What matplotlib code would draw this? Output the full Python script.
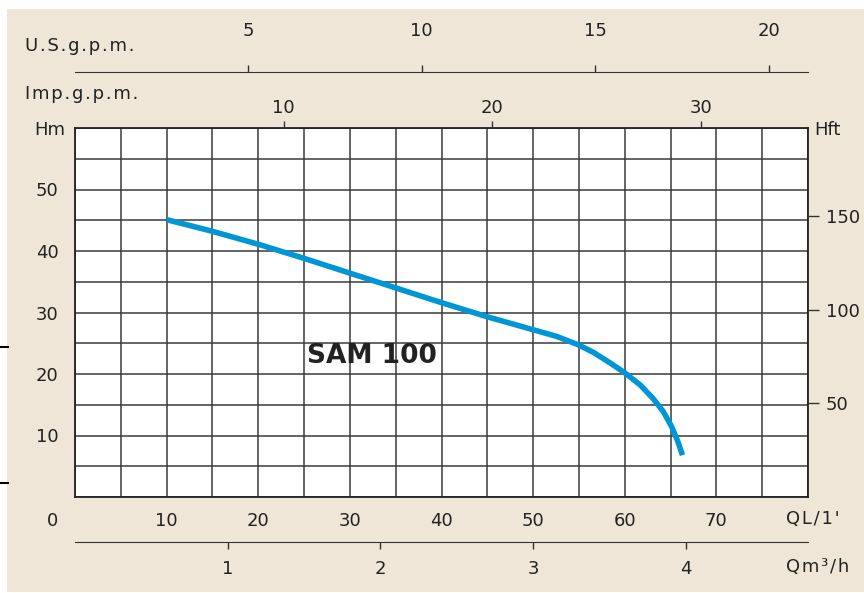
import matplotlib.pyplot as plt
from matplotlib.patches import Rectangle
from matplotlib.lines import Line2D

# pump curve SAM 100 (flow in l/min, head in m)
flow = [10, 15, 20, 25, 30, 35, 40, 45, 50, 52.6, 55, 56.6, 58.4, 60, 61.7, 63.1, 64.2, 65.1, 65.8, 66.3]
head = [45.1, 43.2, 41.1, 38.8, 36.4, 34.0, 31.6, 29.3, 27.2, 26.1, 24.7, 23.5, 21.8, 20.2, 18.2, 16.0, 13.9, 11.5, 9.0, 6.8]

ql_ticks = [10, 20, 30, 40, 50, 60, 70]
hm_ticks = [10, 20, 30, 40, 50]
hft_ticks = [50, 100, 150]
imp_ticks = [10, 20, 30]
us_ticks = [5, 10, 15, 20]
m3h_ticks = [1, 2, 3, 4]

W, H = 864, 593
bg = '#F0E6D7'
curve_col = '#0096D6'
fs = 13
ts = '\u200a'  # hair space, the print uses wide letter spacing

def spaced(s):
    return ts.join(s)

fig = plt.figure(figsize=(W/100, H/100), dpi=100, facecolor=bg)
# white margins of the scan
for r in [(0, 0, W, 9), (0, 0, 7, H), (0, 592, W, H)]:
    x0, y0, x1, y1 = r
    fig.add_artist(Rectangle((x0/W, 1 - y1/H), (x1 - x0)/W, (y1 - y0)/H,
                             transform=fig.transFigure, facecolor='white', edgecolor='none'))
for yy in [347, 483]:
    fig.add_artist(Line2D([0, 8/W], [1 - yy/H, 1 - yy/H], color='black', lw=1.5))

def px_rect(x0, y0, x1, y1):
    return [x0/W, 1 - y1/H, (x1 - x0)/W, (y1 - y0)/H]

# main chart
ax = fig.add_axes(px_rect(75, 128, 808, 497))
ax.set_facecolor('white')
ax.set_xlim(0, 80)
ax.set_ylim(0, 60)
ax.set_xticks(range(0, 81, 5), minor=True)
ax.set_yticks(range(0, 61, 5), minor=True)
ax.set_xticks(ql_ticks)
ax.set_yticks(hm_ticks)
ax.grid(which='both', color='#3a3a3a', lw=1.1)
ax.tick_params(which='both', length=0, labelsize=fs, labelcolor='#222222')
ax.tick_params(axis='x', pad=11)
ax.tick_params(axis='y', pad=12)
for s in ax.spines.values():
    s.set_color('#222222')
    s.set_linewidth(1.3)
ax.plot(flow, head, color=curve_col, lw=4, solid_capstyle='butt', solid_joinstyle='round', zorder=3)
ax.text(0.316, 0.381, 'SAM 100', transform=ax.transAxes, fontsize=19, fontweight='bold',
        color='#222222', ha='left', va='center')

# right axis (feet)
axr = ax.twinx()
axr.set_ylim(0, 60/0.3048)
axr.set_yticks(hft_ticks)
axr.tick_params(axis='y', direction='out', length=8, width=1, pad=5, labelsize=fs,
                color='#333333', labelcolor='#222222')
for s in axr.spines.values():
    s.set_visible(False)

# imperial gpm on top of the chart
axi = ax.twiny()
axi.set_xlim(0, 80/2.276)
axi.set_xticks(imp_ticks)
axi.tick_params(axis='x', direction='out', length=5, width=1, pad=3, labelsize=fs,
                color='#333333', labelcolor='#222222')
for s in axi.spines.values():
    s.set_visible(False)

# US gpm axis
axu = fig.add_axes(px_rect(75, 72, 808, 73))
axu.set_xlim(0, 80/3.785)
axu.set_xticks(us_ticks)
axu.set_yticks([])
axu.patch.set_visible(False)
for k in ['left', 'right', 'bottom']:
    axu.spines[k].set_visible(False)
axu.spines['top'].set_color('#333333')
axu.xaxis.tick_top()
axu.tick_params(axis='x', direction='out', length=5, width=1, pad=18, labelsize=fs,
                color='#333333', labelcolor='#222222')

# m3/h axis
axm = fig.add_axes(px_rect(75, 541, 808, 542))
axm.set_xlim(0, 80/16.667)
axm.set_xticks(m3h_ticks)
axm.set_yticks([])
axm.patch.set_visible(False)
for k in ['left', 'right', 'top']:
    axm.spines[k].set_visible(False)
axm.spines['bottom'].set_color('#333333')
axm.tick_params(axis='x', direction='out', length=5, width=1, pad=8, labelsize=fs,
                color='#333333', labelcolor='#222222')

# axis names
fig.text(25/W, 1 - 46/H, spaced('U.S.g.p.m.'), fontsize=fs, va='center', ha='left', color='#222222')
fig.text(25/W, 1 - 94/H, spaced('Imp.g.p.m.'), fontsize=fs, va='center', ha='left', color='#222222')
fig.text(65/W, 1 - 130/H, 'Hm', fontsize=fs, va='center', ha='right', color='#222222')
fig.text(814/W, 1 - 130/H, 'Hft', fontsize=fs, va='center', ha='left', color='#222222')
fig.text(52/W, 1 - 521/H, '0', fontsize=fs, va='center', ha='center', color='#222222')
fig.text(786/W, 1 - 519/H, spaced("QL/1'"), fontsize=fs, va='center', ha='left', color='#222222')
fig.text(786/W, 1 - 567/H, spaced('Qm³/h'), fontsize=fs, va='center', ha='left', color='#222222')

fig.savefig('out.png', dpi=100, facecolor=fig.get_facecolor())
